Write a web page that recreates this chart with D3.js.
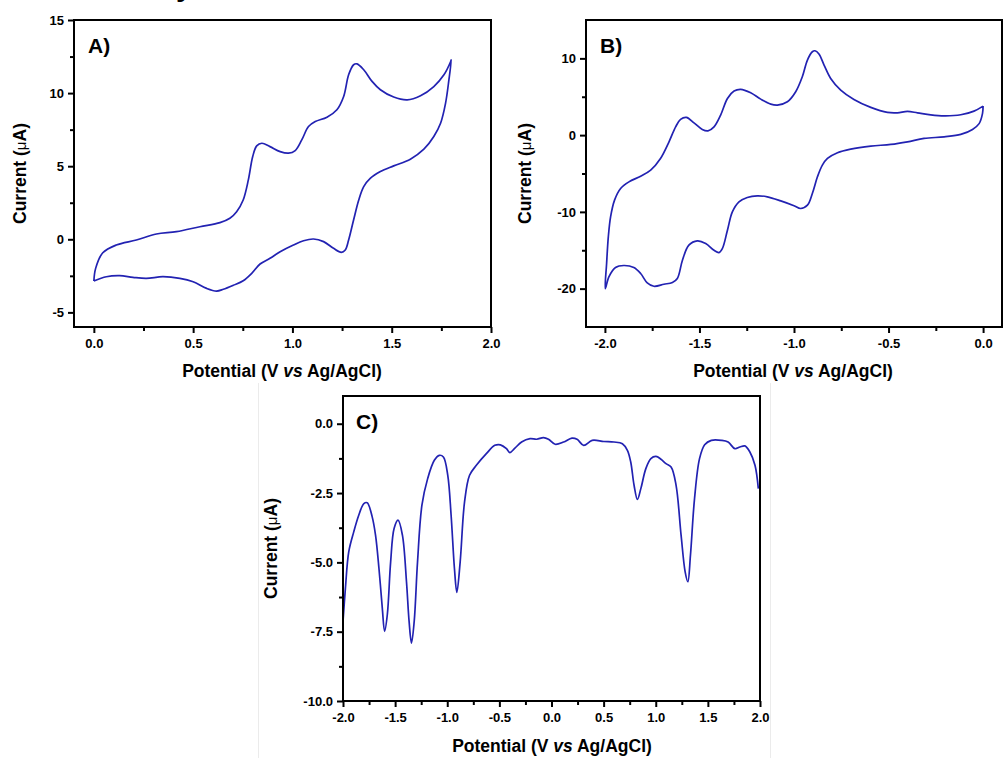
<!DOCTYPE html>
<html><head><meta charset="utf-8">
<script src="https://cdn.jsdelivr.net/npm/d3@7"></script>
<style>
body{margin:0;background:#fff;}
text{font-family:"Liberation Sans",Arial,sans-serif;}
</style></head>
<body><svg id="c" width="1006" height="758"></svg>
<script>
// ---------- DATA ----------
// Panel A: cyclic voltammogram (V, µA), closed loop
const aPotential = [0.0,0.009,0.045,0.113,0.214,0.315,0.416,0.534,0.635,0.685,0.719,0.752,0.778,0.8,0.82,0.846,0.887,0.938,0.98,1.014,1.047,1.081,1.115,1.174,1.224,1.258,1.283,1.308,1.325,1.359,1.401,1.443,1.51,1.578,1.645,1.712,1.763,1.797,1.8,
  1.788,1.771,1.746,1.712,1.662,1.594,1.51,1.443,1.393,1.359,1.334,1.308,1.283,1.266,1.246,1.207,1.157,1.106,1.056,1.005,0.938,0.887,0.837,0.795,0.752,0.702,0.652,0.618,0.568,0.5,0.433,0.348,0.264,0.197,0.13,0.063,0.0];
const aCurrent = [-2.85,-1.99,-0.92,-0.39,-0.05,0.36,0.52,0.86,1.14,1.44,1.89,2.69,4.06,5.66,6.39,6.57,6.34,6.0,5.89,6.07,6.8,7.71,8.05,8.35,8.86,9.77,11.25,11.94,12.0,11.6,10.8,10.23,9.73,9.54,9.82,10.45,11.25,12.16,12.28,
  10.9,9.3,7.94,7.03,6.16,5.48,5.02,4.63,4.18,3.6,2.69,1.32,-0.05,-0.73,-0.89,-0.62,-0.16,0.02,-0.1,-0.39,-0.85,-1.3,-1.69,-2.33,-2.84,-3.15,-3.42,-3.54,-3.36,-2.9,-2.67,-2.56,-2.67,-2.6,-2.49,-2.56,-2.85];

// Panel B: cyclic voltammogram (V, µA), closed loop
const bPotential = [0.0,-0.003,-0.021,-0.056,-0.118,-0.206,-0.312,-0.4,-0.488,-0.594,-0.7,-0.77,-0.823,-0.85,-0.876,-0.903,-0.929,-0.965,-1.0,-1.07,-1.141,-1.194,-1.247,-1.291,-1.326,-1.352,-1.379,-1.397,-1.423,-1.467,-1.511,-1.556,-1.59,-1.617,-1.643,-1.688,-1.741,-1.776,-1.811,-1.847,-1.9,-1.944,-1.979,-1.998,
  -1.991,-1.982,-1.97,-1.949,-1.917,-1.873,-1.811,-1.758,-1.706,-1.661,-1.626,-1.6,-1.569,-1.529,-1.485,-1.455,-1.423,-1.388,-1.352,-1.317,-1.282,-1.229,-1.176,-1.123,-1.088,-1.035,-0.991,-0.956,-0.929,-0.903,-0.889,-0.868,-0.841,-0.806,-0.753,-0.683,-0.594,-0.506,-0.453,-0.4,-0.347,-0.277,-0.206,-0.118,-0.048,0.0];
const bCurrent = [3.78,2.83,1.5,0.74,0.09,-0.22,-0.43,-0.87,-1.21,-1.43,-1.83,-2.3,-3.04,-3.91,-5.43,-7.6,-9.13,-9.56,-9.2,-8.57,-8.04,-7.91,-8.12,-8.69,-10.0,-12.39,-14.78,-15.3,-15.0,-14.12,-13.78,-14.34,-16.3,-18.68,-19.2,-19.43,-19.69,-19.25,-18.03,-17.25,-16.99,-17.25,-18.47,-20.0,
  -16.73,-13.26,-10.65,-8.47,-6.95,-6.09,-5.35,-4.56,-3.04,-0.87,1.08,2.05,2.31,1.6,0.74,0.56,1.08,2.61,4.78,5.74,5.96,5.52,4.69,4.04,3.91,4.34,5.65,7.6,9.78,10.86,10.99,10.56,9.13,7.39,5.87,4.65,3.61,2.96,2.91,3.09,2.91,2.65,2.52,2.65,3.13,3.78];

// Panel C: differential pulse voltammogram (V, µA)
const cPotential = [-2.0,-1.977,-1.945,-1.897,-1.849,-1.8,-1.768,-1.72,-1.688,-1.655,-1.623,-1.601,-1.575,-1.543,-1.51,-1.472,-1.43,-1.391,-1.366,-1.343,-1.317,-1.285,-1.243,-1.188,-1.124,-1.076,-1.037,-0.995,-0.963,-0.931,-0.908,-0.876,-0.834,-0.786,-0.721,-0.625,-0.544,-0.49,-0.432,-0.4,-0.351,-0.287,-0.206,-0.142,-0.077,-0.029,0.035,0.116,0.196,0.245,0.309,0.39,0.502,0.599,0.68,0.728,0.76,0.792,0.824,0.857,0.905,0.953,1.002,1.05,1.098,1.147,1.195,1.243,1.282,1.308,1.333,1.372,1.42,1.469,1.533,1.63,1.694,1.759,1.807,1.855,1.903,1.952,1.984];
const cCurrent = [-7.13,-5.94,-4.62,-3.9,-3.3,-2.88,-2.85,-3.36,-4.02,-5.22,-6.65,-7.49,-6.89,-4.98,-3.78,-3.48,-4.02,-5.7,-7.13,-7.91,-7.13,-4.98,-2.94,-1.98,-1.32,-1.14,-1.2,-1.86,-3.3,-5.22,-6.08,-4.98,-2.82,-1.86,-1.5,-1.08,-0.78,-0.76,-0.9,-1.04,-0.88,-0.66,-0.54,-0.56,-0.5,-0.56,-0.74,-0.66,-0.52,-0.56,-0.78,-0.6,-0.64,-0.66,-0.72,-0.96,-1.38,-2.22,-2.73,-2.34,-1.62,-1.26,-1.18,-1.28,-1.44,-1.56,-2.22,-4.02,-5.34,-5.7,-4.74,-2.7,-1.26,-0.76,-0.6,-0.6,-0.66,-0.9,-0.84,-0.8,-1.02,-1.5,-2.34];

// Tick values and labels
const aXTicks = [0, 0.5, 1.0, 1.5, 2.0];
const aXLabels = ["0.0","0.5","1.0","1.5","2.0"];
const aXMinor = [0.25, 0.75, 1.25, 1.75];
const aYTicks = [-5, 0, 5, 10, 15];
const aYLabels = ["-5","0","5","10","15"];
const aYMinor = [-2.5, 2.5, 7.5, 12.5];

const bXTicks = [-2.0, -1.5, -1.0, -0.5, 0.0];
const bXLabels = ["-2.0","-1.5","-1.0","-0.5","0.0"];
const bXMinor = [-1.75, -1.25, -0.75, -0.25];
const bYTicks = [-20, -10, 0, 10];
const bYLabels = ["-20","-10","0","10"];
const bYMinor = [-15, -5, 5];

const cXTicks = [-2.0,-1.5,-1.0,-0.5,0.0,0.5,1.0,1.5,2.0];
const cXLabels = ["-2.0","-1.5","-1.0","-0.5","0.0","0.5","1.0","1.5","2.0"];
const cXMinor = [-1.75,-1.25,-0.75,-0.25,0.25,0.75,1.25,1.75];
const cYTicks = [-10, -7.5, -5, -2.5, 0];
const cYLabels = ["-10.0","-7.5","-5.0","-2.5","0.0"];
const cYMinor = [-8.75, -6.25, -3.75, -1.25];

// ---------- DRAW ----------
const svg = d3.select("#c");
svg.append("rect").attr("width",1006).attr("height",758).attr("fill","#fff");

// faint frame around panel C
svg.append("line").attr("x1",258.5).attr("x2",258.5).attr("y1",383).attr("y2",758).attr("stroke","#ebebeb");
svg.append("line").attr("x1",770.5).attr("x2",770.5).attr("y1",383).attr("y2",758).attr("stroke","#ebebeb");

// fragment of caption text cut at top
svg.append("text").attr("x",176).attr("y",-4).attr("font-family","'Liberation Serif',serif")
  .attr("font-weight","bold").attr("font-size",30).attr("fill","#000").text("y");

const LINE = "#2222b2";

function panel(o){
  const x = d3.scaleLinear().domain(o.xd).range([o.l, o.r]);
  const y = d3.scaleLinear().domain(o.yd).range([o.b, o.t]);
  const g = svg.append("g");
  // data line
  const pts = o.xs.map((v,i)=>[v, o.ys[i]]);
  const line = d3.line().x(d=>x(d[0])).y(d=>y(d[1])).curve(d3.curveCatmullRom.alpha(0.5));
  g.append("path").attr("d", line(pts)).attr("fill","none").attr("stroke",LINE).attr("stroke-width",1.7);
  // frame
  g.append("rect").attr("x",o.l).attr("y",o.t).attr("width",o.r-o.l).attr("height",o.b-o.t)
    .attr("fill","none").attr("stroke","#000").attr("stroke-width",2);
  // x ticks
  const xa = g.append("g").attr("transform",`translate(0,${o.b})`)
    .call(d3.axisBottom(x).tickValues(o.xT).tickSize(6).tickPadding(6).tickFormat((d,i)=>o.xL[i]));
  const xm = g.append("g").attr("transform",`translate(0,${o.b})`)
    .call(d3.axisBottom(x).tickValues(o.xM).tickSize(4).tickFormat(""));
  const ya = g.append("g").attr("transform",`translate(${o.l},0)`)
    .call(d3.axisLeft(y).tickValues(o.yT).tickSize(6).tickPadding(4).tickFormat((d,i)=>o.yL[i]));
  const ym = g.append("g").attr("transform",`translate(${o.l},0)`)
    .call(d3.axisLeft(y).tickValues(o.yM).tickSize(4).tickFormat(""));
  [xa,xm,ya,ym].forEach(a=>{
    a.select(".domain").remove();
    a.selectAll("line").attr("stroke","#000").attr("stroke-width",2);
    a.selectAll("text").attr("font-family","'Liberation Sans',Arial,sans-serif")
      .attr("font-weight","bold").attr("font-size",13).attr("fill","#000");
  });
  // axis titles
  const yt = g.append("text").attr("transform",`translate(${o.ylx},${(o.t+o.b)/2}) rotate(-90)`)
    .attr("text-anchor","middle").attr("dy","0.35em").attr("font-weight","bold").attr("font-size",17.5).attr("fill","#000");
  yt.append("tspan").text("Current (");
  yt.append("tspan").attr("font-weight","normal").attr("font-size",15).text("\u03bc");
  yt.append("tspan").text("A)");
  const xt = g.append("text").attr("x",o.xlx).attr("y",o.xly).attr("text-anchor","middle")
    .attr("font-weight","bold").attr("font-size",17.5).attr("fill","#000");
  xt.append("tspan").text("Potential (V ");
  xt.append("tspan").attr("font-style","italic").text("vs");
  xt.append("tspan").text(" Ag/AgCl)");
  // panel label
  g.append("text").attr("x",o.l+o.lx).attr("y",o.t+33).attr("font-family","'Open Sans',sans-serif")
    .attr("font-weight","bold").attr("font-size",21).attr("fill","#000").text(o.label);
}

panel({l:74,r:491,t:20,b:327,xd:[-0.1,2.0],yd:[-6,15],xs:aPotential,ys:aCurrent,
  xT:aXTicks,xL:aXLabels,xM:aXMinor,yT:aYTicks,yL:aYLabels,yM:aYMinor,
  ylx:20,xlx:282,xly:377,label:"A)",lx:14});
panel({l:586,r:1002,t:20,b:327,xd:[-2.1,0.1],yd:[-25,15],xs:bPotential,ys:bCurrent,
  xT:bXTicks,xL:bXLabels,xM:bXMinor,yT:bYTicks,yL:bYLabels,yM:bYMinor,
  ylx:525,xlx:793,xly:377,label:"B)",lx:14});
panel({l:343,r:760,t:396,b:701,xd:[-2,2],yd:[-10,1],xs:cPotential,ys:cCurrent,
  xT:cXTicks,xL:cXLabels,xM:cXMinor,yT:cYTicks,yL:cYLabels,yM:cYMinor,
  ylx:271,xlx:552,xly:752,label:"C)",lx:13});
</script></body></html>
